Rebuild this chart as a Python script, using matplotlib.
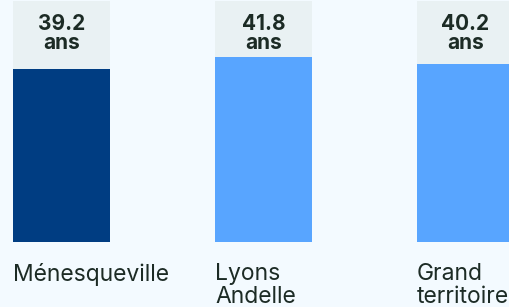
import matplotlib.pyplot as plt

categories = ["Ménesqueville", "Lyons\nAndelle", "Grand\nterritoire"]
values = [39.2, 41.8, 40.2]
unit = "ans"

bar_colors = ["#003d82", "#58a5ff", "#58a5ff"]
box_color = "#e9f1f3"
bg_color = "#f3faff"
text_color = "#1c2b25"
box_top = 54.5

plt.rcParams["font.family"] = ["Inter", "DejaVu Sans"]

fig = plt.figure(figsize=(5.09, 3.07), dpi=100, facecolor=bg_color)
ax = fig.add_axes([0, 0, 1, 1])
ax.set_facecolor(bg_color)
ax.axis("off")

x = list(range(len(categories)))
width = 0.48
ax.bar(x, values, width=width, color=bar_colors)
ax.bar(x, [box_top - v for v in values], bottom=values, width=width, color=box_color)

for i, v in enumerate(values):
    ax.annotate(
        f"{v}\n{unit}",
        xy=(i, box_top),
        xytext=(0, -13),
        textcoords="offset pixels",
        ha="center",
        va="top",
        fontsize=15,
        fontweight="bold",
        color=text_color,
        linespacing=0.9,
    )
    ax.annotate(
        categories[i],
        xy=(i - width / 2, 0),
        xytext=(0, -21),
        textcoords="offset pixels",
        ha="left",
        va="top",
        fontsize=16.5,
        color=text_color,
        linespacing=1.05,
    )

ax.set_xlim(-0.3045, 2.2153)
ax.set_ylim(-14.7, 54.75)

fig.savefig("out.png", dpi=100, facecolor=bg_color)
